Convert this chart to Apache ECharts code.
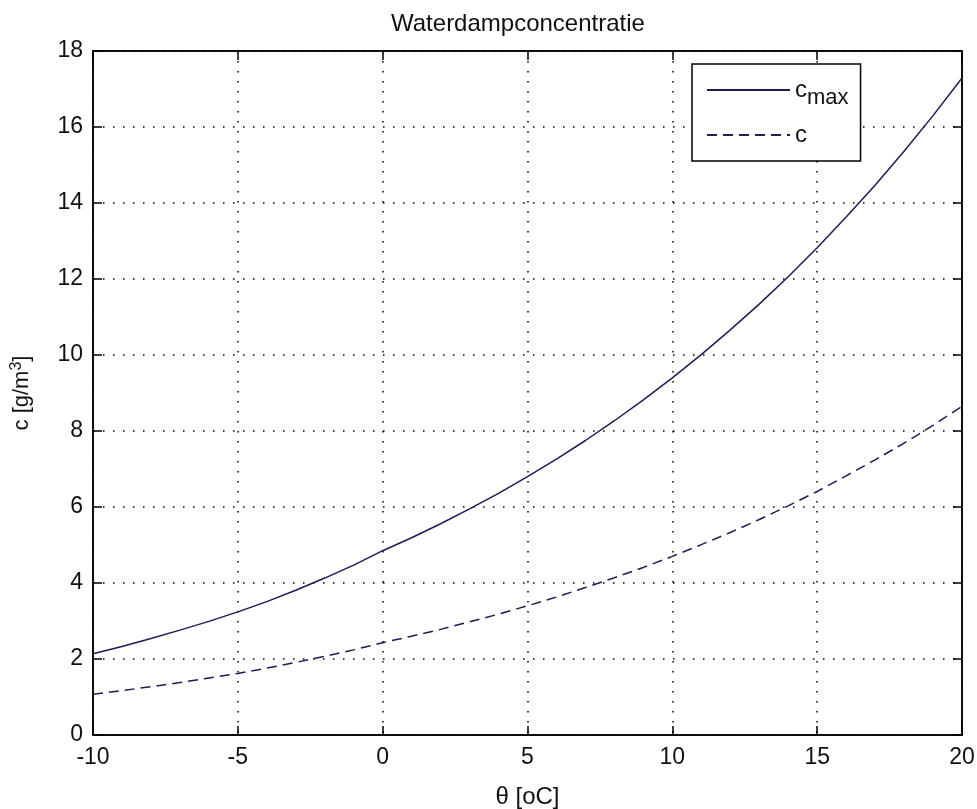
<!DOCTYPE html>
<html>
<head>
<meta charset="utf-8">
<script src="https://cdn.jsdelivr.net/npm/echarts@6/dist/echarts.min.js"></script>
<style>
  html, body { margin: 0; padding: 0; background: #fff; }
  #chart { width: 977px; height: 809px; }
</style>
</head>
<body>
<div id="chart"></div>
<script>
// temperatuur (oC) en waterdampconcentratie (g/m3)
var temps = [-10, -9, -8, -7, -6, -5, -4, -3, -2, -1, 0, 1, 2, 3, 4, 5, 6, 7, 8, 9, 10,
             11, 12, 13, 14, 15, 16, 17, 18, 19, 20];
var cMax = [2.14, 2.33, 2.54, 2.76, 2.99, 3.24, 3.51, 3.81, 4.13, 4.47, 4.85, 5.19, 5.56, 5.95, 6.36, 6.80,
            7.26, 7.75, 8.27, 8.82, 9.40, 10.01, 10.66, 11.34, 12.06, 12.82, 13.63, 14.47, 15.36, 16.30, 17.29];
var cAct = [1.07, 1.17, 1.27, 1.38, 1.50, 1.62, 1.76, 1.91, 2.07, 2.24, 2.43, 2.60, 2.78, 2.98, 3.18, 3.40,
            3.63, 3.88, 4.14, 4.41, 4.70, 5.01, 5.33, 5.67, 6.03, 6.41, 6.82, 7.24, 7.68, 8.15, 8.65];

var font = 'Liberation Sans, Arial, sans-serif';
var lineColor = '#1c1c58';

function pairs(ys) {
    return temps.map(function (t, i) { return [t, ys[i]]; });
}

var gridLine = { show: true, lineStyle: { color: '#000', width: 1.5, type: [1.5, 8.5] } };
var frame = { show: true, onZero: false, lineStyle: { color: '#000', width: 1.5 } };
var innerTick = { inside: true, length: 9, lineStyle: { color: '#000', width: 1.5 } };

var chart = echarts.init(document.getElementById('chart'));
chart.setOption({
    backgroundColor: '#fff',
    animation: false,
    title: {
        text: 'Waterdampconcentratie',
        left: 386,
        top: 7,
        textStyle: { fontFamily: font, fontSize: 24, fontWeight: 'normal', color: '#111' }
    },
    legend: {
        orient: 'vertical',
        left: 692,
        top: 64,
        width: 170,
        padding: [14, 12, 14, 14],
        itemGap: 14,
        itemWidth: 83,
        itemHeight: 14,
        borderColor: '#000',
        borderWidth: 1.5,
        backgroundColor: '#fff',
        itemStyle: { color: 'transparent', borderWidth: 0 },
        data: ['cmax', 'c'],
        formatter: function (name) {
            return name === 'cmax' ? '{a|c}{sub|max}' : '{a|c}';
        },
        textStyle: {
            fontFamily: font,
            color: '#111',
            rich: {
                a: { fontFamily: font, fontSize: 24, color: '#111' },
                sub: { fontFamily: font, fontSize: 22, color: '#111', padding: [16, 0, 0, 0] }
            }
        }
    },
    grid: {
        left: 93, right: 15, top: 51, bottom: 74,
        outerBoundsMode: 'none',
        containLabel: false,
        show: true, borderColor: '#000', borderWidth: 1.5
    },
    xAxis: [{
        type: 'value', min: -10, max: 20, interval: 5,
        name: 'θ [oC]', nameLocation: 'middle', nameGap: 50,
        nameTextStyle: { fontFamily: font, fontSize: 24, color: '#111' },
        axisLine: frame,
        axisTick: innerTick,
        axisLabel: { fontFamily: font, fontSize: 23, color: '#111', margin: 11 },
        splitLine: gridLine
    }, {
        type: 'value', position: 'top', min: -10, max: 20, interval: 5,
        axisLine: frame,
        axisTick: innerTick,
        axisLabel: { show: false },
        splitLine: { show: false }
    }],
    yAxis: [{
        type: 'value', min: 0, max: 18, interval: 2,
        name: '{n|c [g/m}{sup|3}{n|]}', nameLocation: 'middle', nameGap: 58, nameRotate: 90,
        nameTextStyle: {
            rich: {
                n: { fontFamily: font, fontSize: 22, color: '#111' },
                sup: { fontFamily: font, fontSize: 16, color: '#111', padding: [0, 0, 10, 0] }
            }
        },
        axisLine: frame,
        axisTick: innerTick,
        axisLabel: { fontFamily: font, fontSize: 23, color: '#111', margin: 10 },
        splitLine: gridLine
    }, {
        type: 'value', position: 'right', min: 0, max: 18, interval: 2,
        axisLine: frame,
        axisTick: innerTick,
        axisLabel: { show: false },
        splitLine: { show: false }
    }],
    series: [{
        name: 'cmax',
        type: 'line',
        xAxisIndex: 0, yAxisIndex: 0,
        symbol: 'none',
        data: pairs(cMax),
        lineStyle: { color: lineColor, width: 1.5 },
        itemStyle: { color: lineColor }
    }, {
        name: 'c',
        type: 'line',
        xAxisIndex: 0, yAxisIndex: 0,
        symbol: 'none',
        data: pairs(cAct),
        lineStyle: { color: lineColor, width: 1.5, type: [10, 6] },
        itemStyle: { color: lineColor }
    }]
});
</script>
</body>
</html>
